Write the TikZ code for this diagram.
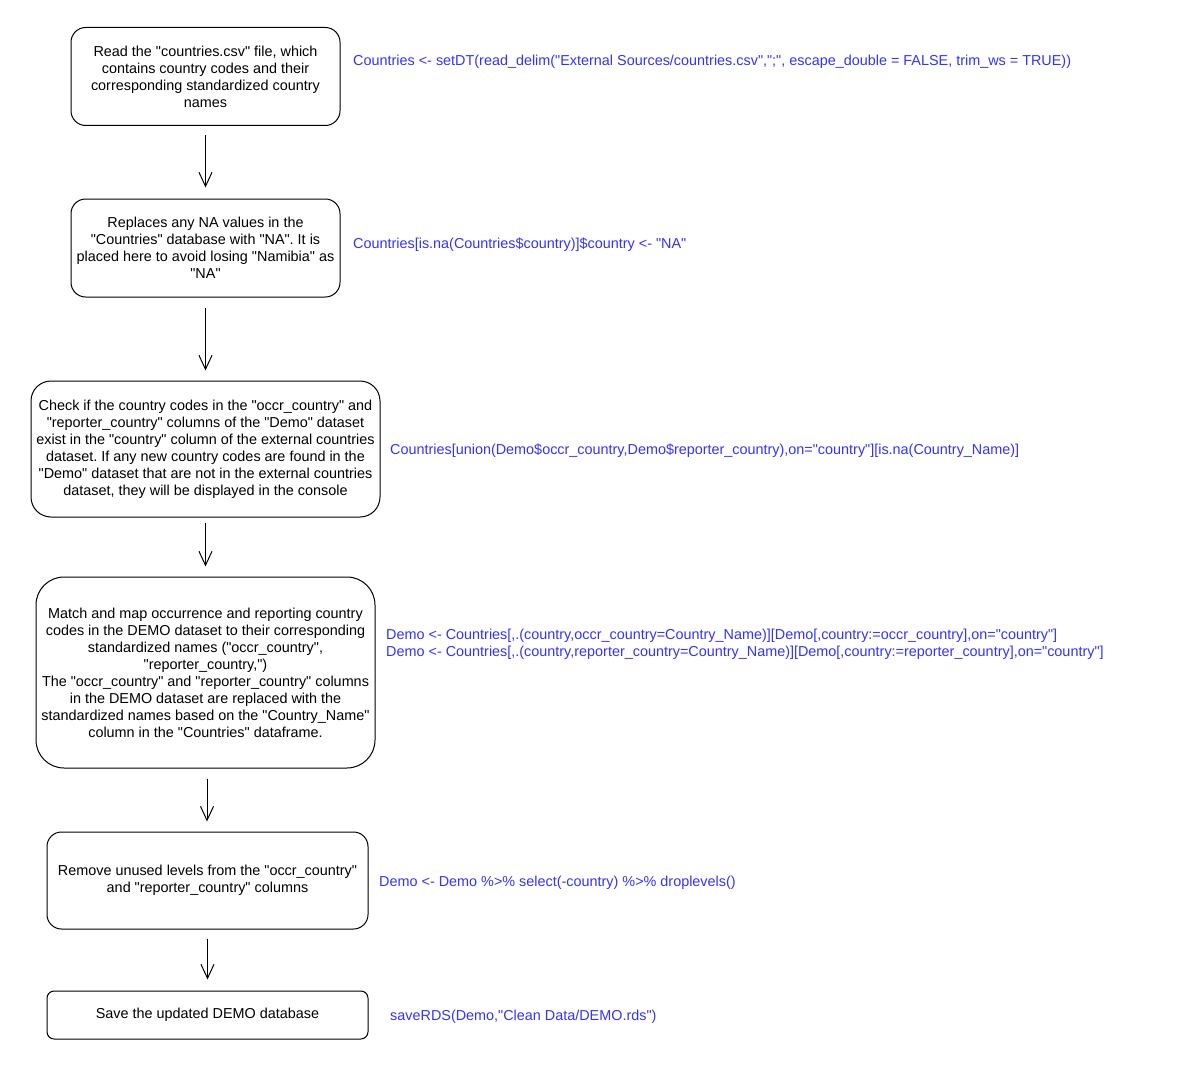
\documentclass[tikz,border=0pt]{standalone}
\usepackage{fontspec}
\setmainfont{Liberation Sans}[Ligatures=TeXOff]
\usetikzlibrary{arrows.meta}
\definecolor{codeblue}{RGB}{51,51,255}
\frenchspacing
\begin{document}
\begin{tikzpicture}[x=1pt,y=-1pt,
  font=\fontsize{14.4}{17}\selectfont,
  stepbox/.style={draw=black, line width=1pt, align=center, inner sep=0pt, fill=white},
  code/.style={anchor=west, text=codeblue, inner sep=0pt, align=left},
  flow/.style={draw=black, line width=1pt, -{Straight Barb[length=14pt,width=13pt,line width=1pt]}}
]
\useasboundingbox (0,0) rectangle (1186,1070);

% process steps
\node[stepbox, rounded corners=14.7pt, minimum width=269pt, minimum height=98pt] (s1) at (205.5,76.5)
  {Read the "countries.csv" file, which\\contains country codes and their\\corresponding standardized country\\names};
\node[stepbox, rounded corners=14.7pt, minimum width=269pt, minimum height=98pt] (s2) at (205.5,248)
  {Replaces any NA values in the\\"Countries" database with "NA". It is\\placed here to avoid losing "Namibia" as\\"NA"};
\node[stepbox, rounded corners=20pt, minimum width=349pt, minimum height=136pt] (s3) at (205.5,449)
  {Check if the country codes in the "occr\_country" and\\"reporter\_country" columns of the "Demo" dataset\\exist in the "country" column of the external countries\\dataset. If any new country codes are found in the\\"Demo" dataset that are not in the external countries\\dataset, they will be displayed in the console};
\node[stepbox, rounded corners=28pt, minimum width=339pt, minimum height=191pt] (s4) at (205.5,672.5)
  {Match and map occurrence and reporting country\\codes in the DEMO dataset to their corresponding\\standardized names ("occr\_country",\\"reporter\_country,")\\The "occr\_country" and "reporter\_country" columns\\in the DEMO dataset are replaced with the\\standardized names based on the "Country\_Name"\\column in the "Countries" dataframe.};
\node[stepbox, rounded corners=14.5pt, minimum width=321pt, minimum height=97pt] (s5) at (207.5,880.5)
  {Remove unused levels from the "occr\_country"\\and "reporter\_country" columns};
\node[stepbox, rounded corners=7.2pt, minimum width=321pt, minimum height=48pt] (s6) at (207.5,1015)
  {Save the updated DEMO database};

% code for each step
\node[code] (c1) at (353,62) {Countries <- setDT(read\_delim("External Sources/countries.csv",";", escape\_double = FALSE, trim\_ws = TRUE))};
\node[code] (c2) at (353,245) {Countries[is.na(Countries\$country)]\$country <- "NA"};
\node[code] (c3) at (390,451) {Countries[union(Demo\$occr\_country,Demo\$reporter\_country),on="country"][is.na(Country\_Name)]};
\node[code] (c4) at (386,644.5) {Demo <- Countries[,.(country,occr\_country=Country\_Name)][Demo[,country:=occr\_country],on="country"]\\Demo <- Countries[,.(country,reporter\_country=Country\_Name)][Demo[,country:=reporter\_country],on="country"]};
\node[code] (c5) at (379,883) {Demo <- Demo \%>\% select(-country) \%>\% droplevels()};
\node[code] (c6) at (390,1017) {saveRDS(Demo,"Clean Data/DEMO.rds")};

% flow arrows
\draw[flow, shorten <=9pt, shorten >=11pt] (s1.south) -- (s2.north);
\draw[flow, shorten <=10pt, shorten >=10pt] (s2.south) -- (s3.north);
\draw[flow, shorten <=5pt, shorten >=10pt] (s3.south) -- (s4.north);
\draw[flow, shorten <=10pt, shorten >=10pt] ([xshift=1.5pt]s4.south) -- ([xshift=-0.5pt]s5.north);
\draw[flow, shorten <=9pt, shorten >=11pt] (s5.south) -- (s6.north);
\end{tikzpicture}
\end{document}
